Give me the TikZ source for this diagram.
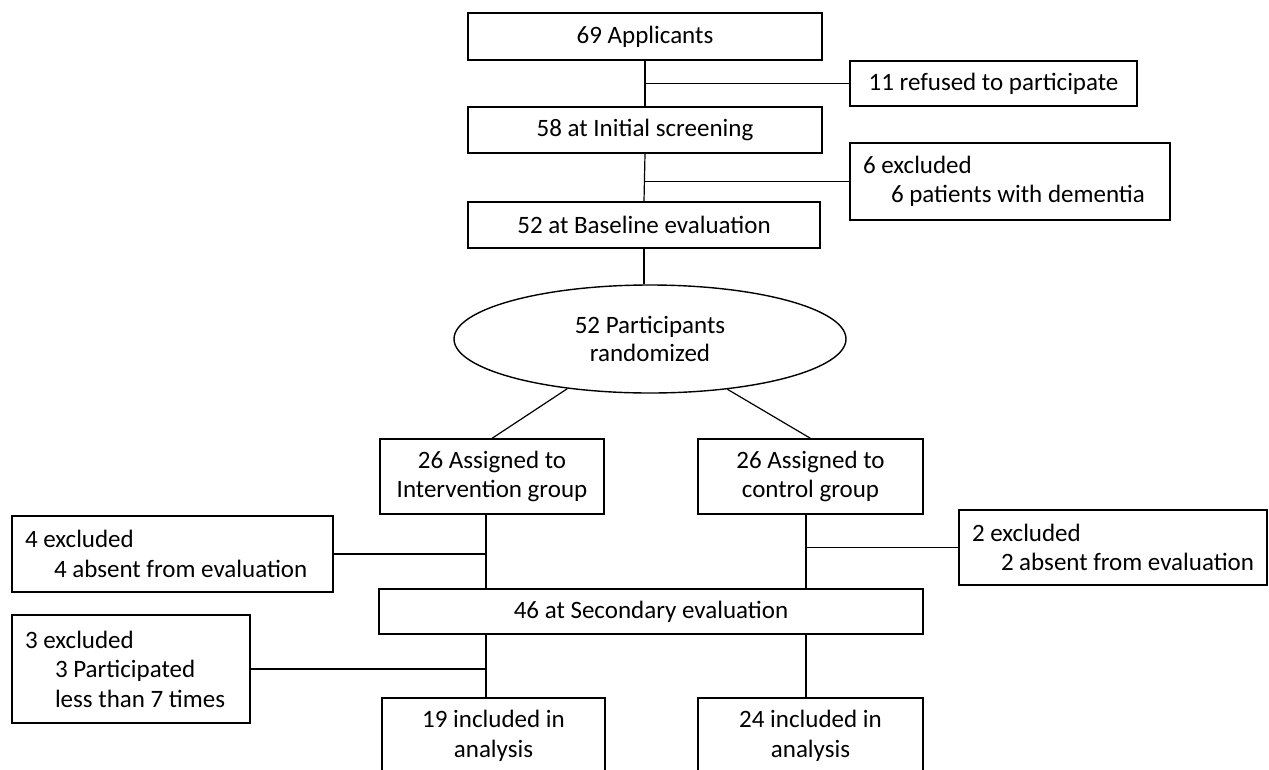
\documentclass[tikz,border=0pt]{standalone}
\usepackage{fontspec}
\setmainfont{Carlito}
\usetikzlibrary{shapes.geometric}
\begin{document}
\begin{tikzpicture}[x=1pt,y=-1pt,
  txt/.style={font=\fontsize{25}{29.5}\selectfont},
  box/.style={draw, line width=1.3pt, inner sep=0pt, align=center, txt},
  ebox/.style={draw, line width=1.3pt, inner xsep=13pt, inner ysep=0pt, align=flush left, txt},
  oval/.style={draw, ellipse, line width=1.4pt, inner sep=0pt, align=center, font=\fontsize{25}{28}\selectfont},
  conn/.style={line width=1.2pt}]
\useasboundingbox (0,0) rectangle (1269,769);
\clip (0,0) rectangle (1269,769);

\node[box, minimum width=354pt, minimum height=47pt] (A) at (645,36.5) {69 Applicants};
\node[box, minimum width=287pt, minimum height=45pt] (ref) at (993.5,83.5) {11 refused to participate};
\node[box, minimum width=354pt, minimum height=46pt] (B) at (645,130) {58 at Initial screening};
\node[ebox, text width=294pt, minimum height=77pt] (ex6) at (1010,181.5) {6 excluded\\\hspace*{28pt}6 patients with dementia};
\node[box, minimum width=352pt, minimum height=46pt] (C) at (644,225) {52 at Baseline evaluation};
\node[oval, minimum width=392pt, minimum height=108pt] (R) at (650,339) {52 Participants\\randomized};
\node[box, minimum width=224pt, minimum height=75pt] (I) at (492,476.5) {26 Assigned to\\Intervention group};
\node[box, minimum width=225pt, minimum height=75pt] (K) at (810.5,476.5) {26 Assigned to\\control group};
\node[ebox, text width=295pt, minimum height=76pt] (ex4) at (172.5,554) {4 excluded\\\hspace*{29pt}4 absent from evaluation};
\node[ebox, text width=282pt, minimum height=75pt] (ex2) at (1113,547.5) {2 excluded\\\hspace*{29pt}2 absent from evaluation};
\node[box, minimum width=544pt, minimum height=45pt] (S) at (651,611.5) {46 at Secondary evaluation};
\node[ebox, text width=212pt, minimum height=108pt] (ex3) at (131,669) {3 excluded\\\hspace*{30pt}3 Participated\\\hspace*{30pt}less than 7 times};
\node[box, minimum width=223pt, minimum height=76pt] (F1) at (493.5,736) {19 included in\\analysis};
\node[box, minimum width=225pt, minimum height=76pt] (F2) at (810.5,736) {24 included in\\analysis};

\coordinate (sL) at ([xshift=-6pt]I.south);
\coordinate (sR) at ([xshift=-4.5pt]K.south);

\draw[conn] (A.south) -- (B.north);
\draw[conn] (A.south |- ref.west) -- (ref.west);
\draw[conn] (B.south) -- (C.north);
\draw[conn] (B.south |- ex6.west) -- (ex6.west);
\draw[conn] (C.south) -- (C.south |- R.north);
\draw[conn] (R.211) -- (I.north);
\draw[conn] (R.327) -- (K.north);
\draw[conn] (sL) -- (sL |- S.north);
\draw[conn] (sR) -- (sR |- S.north);
\draw[conn] (ex4.east) -- (ex4.east -| sL);
\draw[conn] (sR |- ex2.west) -- (ex2.west);
\draw[conn] (sL |- S.south) -- (sL |- F1.north);
\draw[conn] (sR |- S.south) -- (sR |- F2.north);
\draw[conn] (ex3.east) -- (ex3.east -| sL);
\end{tikzpicture}
\end{document}
